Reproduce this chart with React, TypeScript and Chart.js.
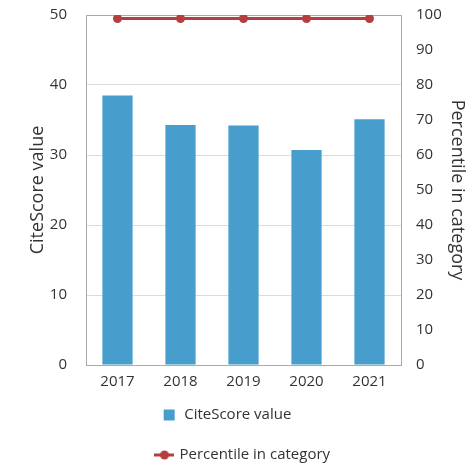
import React, { useEffect, useRef } from "react";
import { Chart, registerables } from "chart.js";

Chart.register(...registerables);

const years = ["2017", "2018", "2019", "2020", "2021"];
const citeScore = [38.5, 34.3, 34.2, 30.7, 35.1];
const percentile = [99, 99, 99, 99, 99];

const BAR = "#479ecd";
const RED = "#b53f3f";
const FONT = "'Open Sans', sans-serif";

function makeLineIcon(): HTMLCanvasElement {
  const c = document.createElement("canvas");
  c.width = 20;
  c.height = 10;
  const ctx = c.getContext("2d")!;
  ctx.strokeStyle = RED;
  ctx.lineWidth = 3;
  ctx.beginPath();
  ctx.moveTo(0, 5);
  ctx.lineTo(20, 5);
  ctx.stroke();
  ctx.fillStyle = RED;
  ctx.beginPath();
  ctx.arc(10, 5, 4.5, 0, Math.PI * 2);
  ctx.fill();
  return c;
}

const layoutTweak = {
  id: "layoutTweak",
  afterLayout(chart: any) {
    // let x labels extend below the axis box, and move legend rows down a bit
    chart.scales.x.bottom = chart.height;
    const lg = chart.legend;
    if (lg) {
      lg.top += 6.5;
      lg.bottom += 6.5;
      if (lg.lineWidths && lg.lineWidths.length > 1) {
        lg.lineWidths[0] += 34;
      }
    }
  },
};

export default function App() {
  const ref = useRef<HTMLCanvasElement>(null);

  useEffect(() => {
    const icon = makeLineIcon();
    const chart = new Chart(ref.current!, {
      data: {
        labels: years,
        datasets: [
          {
            type: "bar",
            label: "CiteScore value",
            data: citeScore,
            backgroundColor: BAR,
            borderWidth: 0,
            yAxisID: "y",
            categoryPercentage: 1,
            barPercentage: 0.48,
          },
          {
            type: "line",
            label: "Percentile in category",
            data: percentile,
            borderColor: RED,
            backgroundColor: RED,
            borderWidth: 3,
            pointRadius: 4.5,
            pointBorderWidth: 0,
            yAxisID: "y1",
          },
        ],
      },
      plugins: [layoutTweak],
      options: {
        animation: false,
        responsive: true,
        maintainAspectRatio: false,
        layout: { padding: { top: 15, left: 0, right: 0, bottom: 0 } },
        plugins: {
          tooltip: { enabled: false },
          legend: {
            position: "bottom",
            fullSize: false,
            labels: {
              usePointStyle: true,
              boxHeight: 11,
              padding: 25,
              color: "#333",
              font: { family: FONT, size: 15 },
              generateLabels: (ch: any) => {
                const items = Chart.defaults.plugins.legend.labels.generateLabels(ch);
                return items.map((it: any, i: number) => ({
                  ...it,
                  pointStyle: i === 0 ? "rect" : icon,
                  lineWidth: 0,
                }));
              },
            },
          },
        },
        scales: {
          x: {
            grid: { display: false, drawTicks: false },
            border: { display: true, color: "#aaa" },
            ticks: { color: "#333", padding: 8, font: { family: FONT, size: 15 } },
            afterFit: (s: any) => {
              s.height = 11;
              s.paddingLeft = 0;
              s.paddingRight = 0;
            },
          },
          y: {
            position: "left",
            min: 0,
            max: 50,
            ticks: { stepSize: 10, color: "#333", padding: 19, font: { family: FONT, size: 15 } },
            grid: {
              drawTicks: false,
              color: (c: any) => (c.tick && c.tick.value === 50 ? "#aaa" : "#dcdcdc"),
            },
            border: { display: true, color: "#aaa" },
            title: {
              display: true,
              text: "CiteScore value",
              color: "#333",
              font: { family: FONT, size: 18 },
              padding: { top: 27, bottom: 0 },
            },
            afterFit: (s: any) => {
              s.width = 86;
              s.paddingTop = 0;
              s.paddingBottom = 0;
            },
          },
          y1: {
            position: "right",
            min: 0,
            max: 100,
            ticks: { stepSize: 10, color: "#333", padding: 15, font: { family: FONT, size: 15 } },
            grid: { display: false, drawTicks: false },
            border: { display: true, color: "#aaa" },
            title: {
              display: true,
              text: "Percentile in category",
              color: "#333",
              font: { family: FONT, size: 18 },
              padding: { top: 6, bottom: 0 },
            },
            afterFit: (s: any) => {
              s.width = 73;
              s.paddingTop = 0;
              s.paddingBottom = 0;
            },
          },
        },
      } as any,
    });
    return () => chart.destroy();
  }, []);

  return (
    <div style={{ position: "absolute", left: 0, top: 0, width: 474, height: 466, background: "#fff" }}>
      <canvas ref={ref} />
    </div>
  );
}
